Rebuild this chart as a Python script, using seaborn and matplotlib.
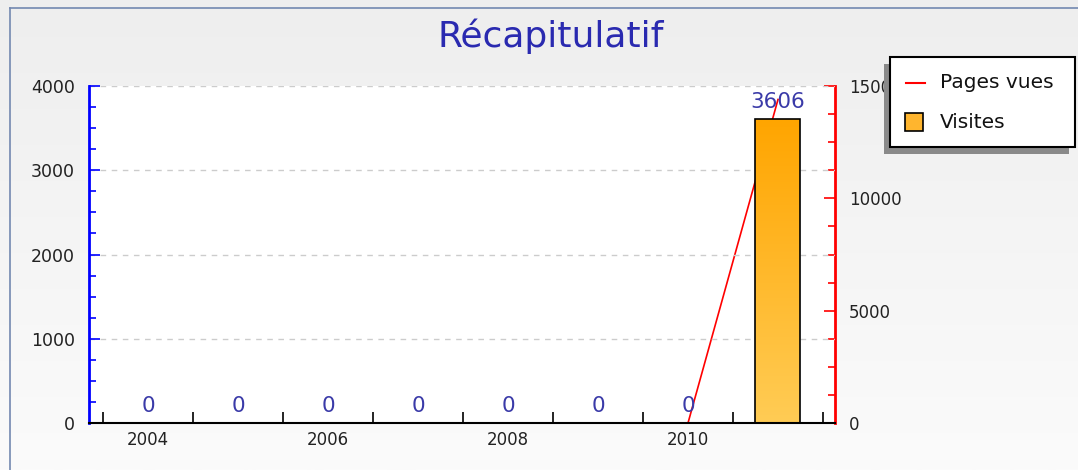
import numpy as np
import matplotlib
matplotlib.use("Agg")
import matplotlib.pyplot as plt
import seaborn as sns
from matplotlib.patches import Rectangle
from matplotlib.lines import Line2D
from matplotlib.ticker import MultipleLocator

# Data
years = ["2004", "2005", "2006", "2007", "2008", "2009", "2010", "2011"]
visites = [0, 0, 0, 0, 0, 0, 0, 3606]
pages_vues = [np.nan, np.nan, np.nan, np.nan, np.nan, np.nan, 0, 14400]
shown_year_labels = ["2004", "", "2006", "", "2008", "", "2010", ""]

W, H = 1078, 470
fig = plt.figure(figsize=(W / 100, H / 100), dpi=100)

# Background gradient for the whole figure
bg = fig.add_axes([0, 0, 1, 1], zorder=-10)
grad = np.linspace(0, 1, 256).reshape(-1, 1)
bg.imshow(grad, aspect="auto", cmap=matplotlib.colors.LinearSegmentedColormap.from_list(
    "bg", ["#eeeeee", "#fbfbfb"]), extent=[0, 1, 0, 1])
bg.set_axis_off()
# thin frame border on left and top
fig.add_artist(Line2D([10 / W, 10 / W], [0, 1 - 8 / H], color="#7388b0", lw=1.2))
fig.add_artist(Line2D([10 / W, 1], [1 - 8 / H, 1 - 8 / H], color="#7388b0", lw=1.2))

left, right, top, bottom = 89, 835, 86, 423
pos = [left / W, 1 - bottom / H, (right - left) / W, (bottom - top) / H]
ax = fig.add_axes(pos)
ax2 = ax.twinx()

# Bars on the main axis
sns.barplot(x=years, y=visites, ax=ax, color="#ffa500", edgecolor="black",
            linewidth=1.2, width=0.5, saturation=1)

# Gradient fill on bars
cmap_bar = matplotlib.colors.LinearSegmentedColormap.from_list(
    "bar", ["#ffcc55", "#ffa500"])
for bar in ax.patches:
    h = bar.get_height()
    if h <= 0:
        continue
    x0 = bar.get_x()
    im = ax.imshow(grad, aspect="auto", cmap=cmap_bar, origin="lower",
                   extent=[x0, x0 + bar.get_width(), 0, h], zorder=bar.get_zorder())
    im.set_clip_path(bar)
    bar.set_facecolor("none")
    bar.set_zorder(3)

# Value labels
for i, v in enumerate(visites):
    ax.annotate(f"{v}", (i, v), xytext=(0, 5), textcoords="offset points",
                ha="center", va="bottom", color="#3a3aa8", fontsize=15.5)

# Line on the secondary axis
sns.lineplot(x=list(range(len(years))), y=pages_vues, ax=ax2, color="red",
             linewidth=1.2, legend=False)

ax.set_zorder(2)
ax2.set_zorder(1)
ax.patch.set_visible(False)
ax2.patch.set_facecolor("white")
ax2.patch.set_visible(True)

# Axes limits and ticks
ax.set_xlim(-0.5 - 14 / 90, 7.5 + 12 / 90)
ax.set_ylim(0, 4000)
ax2.set_ylim(0, 15000)

ax.yaxis.set_major_locator(MultipleLocator(1000))
ax.yaxis.set_minor_locator(MultipleLocator(250))
ax2.yaxis.set_major_locator(MultipleLocator(5000))
ax2.yaxis.set_minor_locator(MultipleLocator(1250))

ax.set_xticks(range(len(years)))
ax.set_xticklabels(shown_year_labels)
ax.set_xticks([i - 0.5 for i in range(len(years) + 1)], minor=True)
ax.tick_params(axis="x", which="major", length=0, pad=6, labelsize=12, labelcolor="#222222")
ax.tick_params(axis="x", which="minor", direction="in", length=8, width=1.2, color="black")

ax.tick_params(axis="y", which="major", direction="in", length=8, width=1.2,
               color="blue", labelsize=12.5, labelcolor="#222222", pad=10)
ax.tick_params(axis="y", which="minor", direction="in", length=5, width=1.2, color="blue")
ax2.tick_params(axis="y", which="major", direction="in", length=8, width=1.2,
                color="red", labelsize=12, labelcolor="#222222", pad=10)
ax2.tick_params(axis="y", which="minor", direction="in", length=5, width=1.2, color="red")

ax.set_axisbelow(True)
ax.grid(axis="y", which="major", linestyle=(0, (4, 4)), color="#cccccc", linewidth=1)
ax.set_xlabel("")
ax.set_ylabel("")
ax2.set_ylabel("")

for a in (ax, ax2):
    a.spines["top"].set_visible(False)
ax.spines["right"].set_visible(False)
ax.spines["left"].set_color("blue")
ax.spines["left"].set_linewidth(2)
ax.spines["bottom"].set_color("black")
ax.spines["bottom"].set_linewidth(1.5)
ax.spines["bottom"].set_zorder(5)
ax2.spines["left"].set_visible(False)
ax2.spines["bottom"].set_visible(False)
ax2.spines["right"].set_color("red")
ax2.spines["right"].set_linewidth(2)

# Title
fig.text(551 / W, 1 - 36 / H, "Récapitulatif", ha="center", va="center",
         fontsize=26, color="#2a2ab0")

# Legend box with shadow, drawn by hand
bx0, by0, bx1, by1 = 890, 57, 1075, 147
fig.add_artist(Rectangle(((bx0 - 6) / W, 1 - (by1 + 7) / H), (bx1 - bx0) / W,
                         (by1 - by0) / H, transform=fig.transFigure,
                         facecolor="#8a8a8a", edgecolor="none", zorder=20))
fig.add_artist(Rectangle((bx0 / W, 1 - by1 / H), (bx1 - bx0) / W, (by1 - by0) / H,
                         transform=fig.transFigure, facecolor="white",
                         edgecolor="black", linewidth=1.5, zorder=21))
fig.add_artist(Line2D([906 / W, 925 / W], [1 - 83 / H, 1 - 83 / H], color="red",
                      lw=1.5, zorder=22))
fig.add_artist(Rectangle((905 / W, 1 - 131 / H), 18 / W, 18 / H, transform=fig.transFigure,
                         facecolor="#ffb52e", edgecolor="black", linewidth=1.2, zorder=22))
fig.text(940 / W, 1 - 83 / H, "Pages vues", ha="left", va="center", fontsize=14.5,
         color="#111111", zorder=23)
fig.text(940 / W, 1 - 123 / H, "Visites", ha="left", va="center", fontsize=14.5,
         color="#111111", zorder=23)

fig.savefig("out.png", dpi=100)
